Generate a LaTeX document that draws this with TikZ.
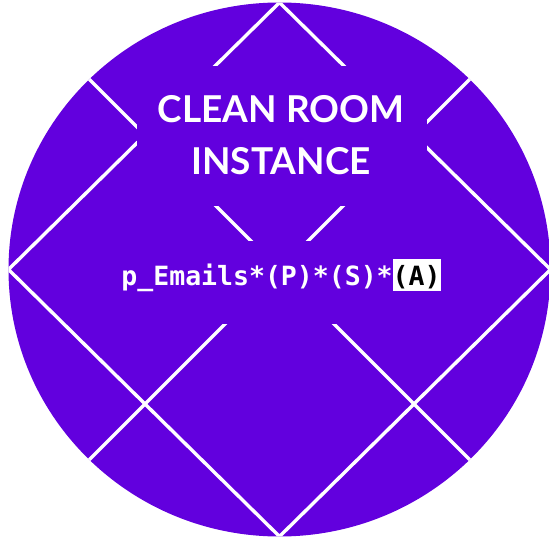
\documentclass[tikz,border=0pt]{standalone}
\usepackage{fontspec}
\newfontfamily\titlefont{Lato}
\newfontfamily\codefont{DejaVu Sans Mono}
\definecolor{roompurple}{RGB}{98,0,222}
\newcommand{\hilite}[1]{{\setlength{\fboxsep}{0pt}\colorbox{white}{\rule[-6pt]{0pt}{32pt}\textcolor{black}{#1}}}}

\begin{document}
\begin{tikzpicture}[
  x=1pt, y=-1pt,
  disc/.style={fill=roompurple},
  seam/.style={draw=white, line width=3.4pt},
  mask/.style={fill=roompurple, inner sep=0pt},
  title/.style={text=white, align=center, inner sep=0pt, font=\titlefont\bfseries\fontsize{37}{52}\selectfont},
  code/.style={text=white, inner sep=0pt, font=\codefont\bfseries\fontsize{26.5}{30}\selectfont}
]
\useasboundingbox (0,0) rectangle (549,540);
\coordinate (o) at (279.5,269.5);
\coordinate (top) at (279.5,2.5);
\coordinate (left) at (8.5,269.5);
\coordinate (bottom) at (279.5,536.5);
\coordinate (right) at (550.5,269.5);

\fill[disc] (o) ellipse [x radius=271, y radius=267];

% diamond and the two diagonals
\begin{scope}
  \clip (o) ellipse [x radius=271, y radius=267];
  \draw[seam] (top) -- (left) -- (bottom) -- (right) -- cycle;
  \draw[seam] (o) ++(-260,-260) -- ++(520,520);
  \draw[seam] (o) ++(260,-260) -- ++(-520,520);
\end{scope}

% cut-outs behind the texts
\node[mask, minimum width=290pt, minimum height=140pt] (titlemask) at (282,136.5) {};
\node[mask, minimum width=340pt, minimum height=83pt] (codemask) at (282,282.5) {};

\node[title] (name) at (281,135) {CLEAN ROOM\\INSTANCE};
\node[code, anchor=base] (query) at (281,285) {p\_Emails*(P)*(S)*\hilite{(A)}};
\end{tikzpicture}
\end{document}
